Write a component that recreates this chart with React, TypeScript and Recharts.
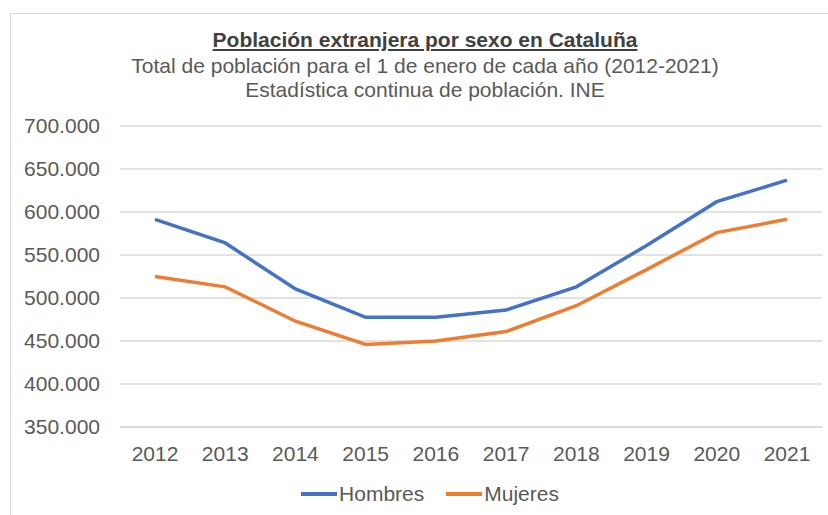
import { LineChart, Line, XAxis, YAxis, CartesianGrid, Legend } from "recharts";

const years = ["2012", "2013", "2014", "2015", "2016", "2017", "2018", "2019", "2020", "2021"];
const hombres = [591500, 564000, 510500, 477500, 477500, 486000, 513000, 561000, 612000, 637000];
const mujeres = [525000, 513000, 473000, 446000, 450000, 461000, 491000, 533000, 576000, 591500];
const yTicks = [350000, 400000, 450000, 500000, 550000, 600000, 650000, 700000];

const series = [
  { key: "Hombres", color: "#4472C4" },
  { key: "Mujeres", color: "#ED7D31" },
];

const data = years.map((year, i) => ({
  year,
  Hombres: hombres[i],
  Mujeres: mujeres[i],
}));

const textColor = "#595959";
const gridColor = "#D9D9D9";
const font = "'Liberation Sans', Arial, sans-serif";

// 700000 -> "700.000"
function formatMiles(v: number) {
  return String(v).replace(/\B(?=(\d{3})+(?!\d))/g, ".");
}

function LegendContent() {
  return (
    <div
      style={{
        display: "flex",
        justifyContent: "center",
        alignItems: "center",
        height: 24,
        paddingLeft: 32,
        fontFamily: font,
        fontSize: 21,
        color: textColor,
      }}
    >
      {series.map((s) => (
        <div key={s.key} style={{ display: "flex", alignItems: "center", margin: "0 11px" }}>
          <div style={{ width: 36, height: 4, background: s.color, marginRight: 2 }} />
          <span>{s.key}</span>
        </div>
      ))}
    </div>
  );
}

export default function App() {
  return (
    <div
      style={{
        position: "absolute",
        top: 0,
        left: 0,
        width: 828,
        height: 515,
        background: "#fff",
        fontFamily: font,
        overflow: "hidden",
      }}
    >
      {/* chart frame */}
      <div
        style={{
          position: "absolute",
          left: 10,
          top: 13,
          width: 840,
          height: 540,
          border: `1.5px solid ${gridColor}`,
        }}
      />

      <div style={{ position: "absolute", top: 0, left: 0 }}>
        <LineChart width={828} height={515} data={data} margin={{ top: 126, right: 6, left: 0, bottom: 34 }}>
          <CartesianGrid vertical={false} stroke={gridColor} strokeWidth={1.5} />
          <XAxis
            dataKey="year"
            axisLine={{ stroke: gridColor, strokeWidth: 1.5 }}
            tickLine={false}
            tickMargin={13}
            padding={{ left: 35, right: 35 }}
            tick={{ fill: textColor, fontSize: 21, fontFamily: font }}
            interval={0}
          />
          <YAxis
            width={120}
            domain={[350000, 700000]}
            ticks={yTicks}
            axisLine={false}
            tickLine={false}
            tickMargin={14}
            tickFormatter={formatMiles}
            tick={{ fill: textColor, fontSize: 21, fontFamily: font }}
          />
          <Legend
            verticalAlign="bottom"
            content={<LegendContent />}
            wrapperStyle={{ position: "absolute", top: 482, left: 0, width: 828 }}
          />
          {series.map((s) => (
            <Line
              key={s.key}
              type="linear"
              dataKey={s.key}
              stroke={s.color}
              strokeWidth={3.5}
              dot={false}
              activeDot={false}
              isAnimationActive={false}
            />
          ))}
        </LineChart>
      </div>

      {/* titles */}
      <div
        style={{
          position: "absolute",
          top: 28,
          left: 0,
          width: 850,
          textAlign: "center",
          color: textColor,
          fontSize: 21,
          lineHeight: "24px",
        }}
      >
        <div style={{ fontWeight: "bold", textDecoration: "underline", color: "#404040", marginBottom: 2 }}>
          Población extranjera por sexo en Cataluña
        </div>
        <div>Total de población para el 1 de enero de cada año (2012-2021)</div>
        <div>Estadística continua de población. INE</div>
      </div>
    </div>
  );
}
